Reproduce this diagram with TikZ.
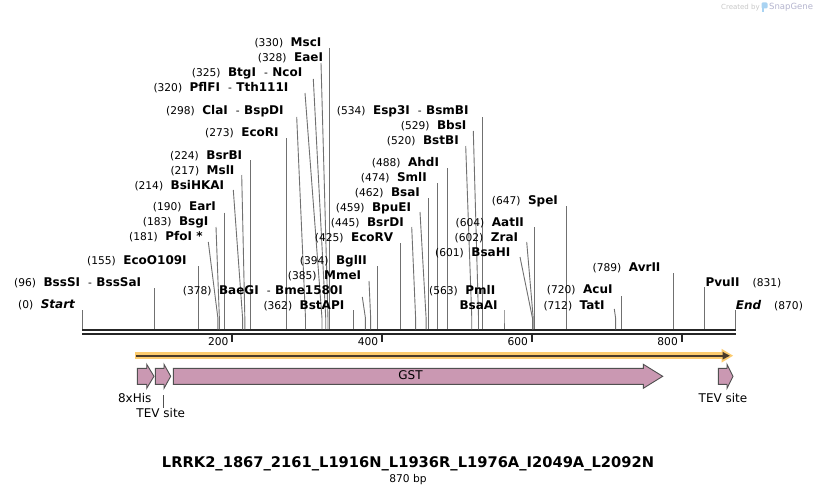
\documentclass[tikz,border=0pt]{standalone}
\usepackage{fontspec}
\setmainfont{DejaVu Sans}
\usepackage{tikz}
\usetikzlibrary{arrows.meta,positioning,calc}
\definecolor{bbone}{HTML}{262626}
\definecolor{leadgray}{HTML}{707070}
\definecolor{halo}{HTML}{FCCB6E}
\definecolor{orfcore}{HTML}{4A3B2A}
\definecolor{featpink}{HTML}{CA98B2}
\definecolor{featline}{HTML}{505050}
\definecolor{wmgray}{HTML}{C8C8C8}
\definecolor{wmblue}{HTML}{A9D3F2}
\newcommand{\enznum}[1]{{\fontsize{10.67pt}{12pt}\selectfont #1}}
\newcommand{\enzname}[1]{{\fontsize{12pt}{14pt}\selectfont\bfseries #1}}
\newcommand{\enzsep}{\hspace{8pt}{\mdseries\fontsize{10.67pt}{12pt}\selectfont -}\hspace{4.5pt}}

\begin{document}
\begin{tikzpicture}[x=1pt,y=-1pt,
  leader/.style={draw=leadgray,line width=0.9pt},
  enz/.style={anchor=base west,inner sep=0pt,yshift=-4.3pt},
  bbline/.style={draw=bbone,line width=2pt},
  tickmark/.style={draw=bbone,line width=2pt},
  feat/.style={fill=featpink,draw=featline,line width=0.9pt,line join=miter},
  featlbl/.style={inner sep=0pt,font=\fontsize{12pt}{14pt}\selectfont}]
  \fill[white] (0,0) rectangle (818,495);
  \useasboundingbox (0,0) rectangle (818,495);
  % backbone
  \coordinate (bbL) at (82,330.3);
  \coordinate (bbR) at (735.5,330.3);
  \draw[bbline] (bbL) -- (bbR);
  \draw[bbline] ([yshift=-4pt]bbL) -- ([yshift=-4pt]bbR);
  \foreach \tk in {200,400,600,800}{
    \pgfmathsetmacro{\tx}{82.3+0.749*\tk}
    \coordinate (t\tk) at (\tx,335);
    \draw[tickmark] (t\tk) -- ++(0,7);
    \node[anchor=east,inner sep=0pt,font=\fontsize{10.67pt}{12pt}\selectfont] (tl\tk) at (\tx-3.5,342) {\tk};
  }
  % enzyme sites: pos / label x / label y / leader x (0 = straight) / leader y / name
  \foreach \q/\lx/\ly/\sx/\sy/\txt in {
    0/18/304.5/0/310/{\itshape Start},
    96/14/282/0/288/{BssSI\enzsep BssSaI},
    155/87/260/0/266/{EcoO109I},
    181/129/236.5/208.3/242/{PfoI *},
    183/142.7/221.5/216/227/{BsgI},
    190/152.7/206.5/0/212.5/{EarI},
    214/134.3/185/233.3/190/{BsiHKAI},
    217/170.3/170/241.7/175/{MslI},
    224/170/155/0/160/{BsrBI},
    273/205/132/0/138/{EcoRI},
    298/166/110/296.7/117/{ClaI\enzsep BspDI},
    320/153.3/87.3/305/93/{PflFI\enzsep Tth111I},
    325/191.7/72.3/313.3/79/{BtgI\enzsep NcoI},
    328/257.7/56.7/321/63/{EaeI},
    330/254.3/41.7/0/48/{MscI},
    362/263.3/305/0/310/{BstAPI},
    378/182.7/290/362.3/297/{BaeGI\enzsep Bme1580I},
    385/287.7/275/369/281/{MmeI},
    394/299.7/260/0/266/{BglII},
    425/314.7/236.7/0/243/{EcoRV},
    445/330.7/221.7/411.7/227/{BsrDI},
    459/335.7/206.7/420/212/{BpuEI},
    462/354.7/191.7/0/198/{BsaI},
    474/360.7/176.7/0/183/{SmlI},
    488/371.7/162/0/168/{AhdI},
    520/386.7/140/465.7/146/{BstBI},
    529/400.7/125/473.3/131/{BbsI},
    534/336.7/110/0/117/{Esp3I\enzsep BsmBI},
    563/429/290/0/310/{PmlI},
    601/435/251.7/520/257/{BsaHI},
    602/454.5/236.7/526.7/242/{ZraI},
    604/455.5/221.7/0/227/{AatII},
    647/491.7/200/0/206/{SpeI},
    712/543.3/305/614.3/309/{TatI},
    720/546.7/289.3/0/296/{AcuI},
    789/592.5/267.3/0/273/{AvrII}}{
    \pgfmathsetmacro{\cx}{82.3+0.749*\q}
    \pgfmathsetmacro{\ssx}{\sx==0 ? \cx : \sx}
    \node[enz] (l\q) at (\lx,\ly) {\enznum{(\q)}\hspace{7.5pt}\enzname{\txt}};
    \coordinate (s\q) at (\ssx,\sy);
    \coordinate (b\q) at (\cx,318);
    \coordinate (c\q) at (\cx,329.3);
    \draw[leader] (s\q) -- (b\q) -- (c\q);
  }
  \node[enz] (l563b) at (459.3,305) {\enzname{BsaAI}};
  \node[enz] (l831) at (705.3,282) {\enzname{PvuII}\hspace{13pt}\enznum{(831)}};
  \coordinate (s831) at (704.7,287);
  \coordinate (c831) at (704.7,329.3);
  \draw[leader] (s831) -- (c831);
  \node[enz] (l870) at (735.7,305) {\enzname{\itshape End}\hspace{13pt}\enznum{(870)}};
  \coordinate (s870) at (735.5,309.5);
  \coordinate (c870) at (735.5,329.3);
  \draw[leader] (s870) -- (c870);
  % ORF arrow
  \fill[halo] (135,352.3) rectangle (724,359.1);
  \fill[halo] (721.5,348.8) -- (733,355.7) -- (721.5,362.6) -- cycle;
  \draw[orfcore,line width=2.3pt] (135.8,355.7) -- (724,355.7);
  \fill[orfcore] (722.5,351.8) -- (729.8,355.7) -- (722.5,359.6) -- cycle;
  % features
  \foreach \a/\b/\c in {137.3/146.7/154, 155.3/164/170.7, 173.3/643.3/662.7, 718.3/727/733}{
    \draw[feat] (\a,368.3) -- (\b,368.3) -- (\b,364.3) -- (\c,376.3) -- (\b,388.3) -- (\b,384.3) -- (\a,384.3) -- cycle;
  }
  \node[featlbl] (fGst) at (410.5,375.5) {GST};
  \node[featlbl] (fHis) at (134.7,397.7) {8xHis};
  \node[featlbl] (fTev) at (160.8,413.3) {TEV site};
  \node[featlbl] (fTevb) at (723,397.7) {TEV site};
  \coordinate (tev) at (163.3,395);
  \draw[featline,line width=0.9pt] (tev) -- (tev |- fTev.north);
  % title
  \node[font=\fontsize{14.67pt}{16pt}\selectfont\bfseries] (title) at (408,464) {LRRK2\_1867\_2161\_L1916N\_L1936R\_L1976A\_I2049A\_L2092N};
  \node[font=\fontsize{10.67pt}{12pt}\selectfont,inner sep=0pt] (len) at (408,479.5) {870 bp};
  % watermark
  \node[anchor=west,inner sep=0pt,text=wmgray,font=\fontsize{7pt}{8pt}\selectfont] (wm1) at (721,7.5) {Created by};
  \fill[wmblue,rounded corners=1.2pt] (761.5,2.5) rectangle (767.5,8.5);
  \fill[wmblue] (761.5,6) rectangle (764,12.5);
  \node[anchor=west,inner sep=0pt,text=wmgray!90!blue,font=\fontsize{8.5pt}{9pt}\selectfont] (wm2) at (769,7.5) {SnapGene};
\end{tikzpicture}
\end{document}
